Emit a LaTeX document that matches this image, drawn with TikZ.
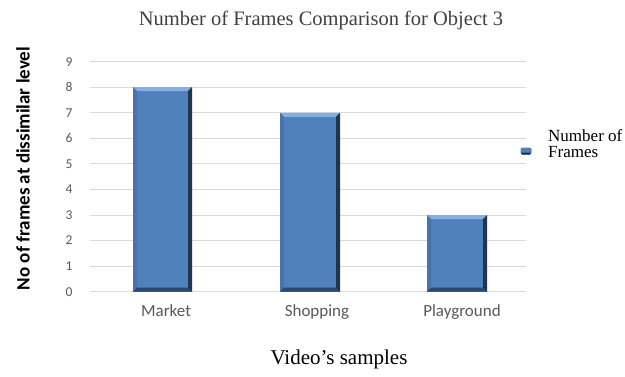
\documentclass[tikz,border=0pt]{standalone}
\usepackage{fontspec}
\setmainfont{Liberation Serif}
\newfontfamily\tickfont{Carlito}
\definecolor{barblue}{HTML}{4F81BD}
\definecolor{bartop}{HTML}{86AEDF}
\definecolor{barright}{HTML}{1F3550}
\definecolor{barbottom}{HTML}{2A4870}
\definecolor{barleft}{HTML}{4674AD}
\definecolor{gridgray}{HTML}{D9D9D9}
\definecolor{ticktext}{HTML}{595959}
\newcommand{\bevelbar}[3]{%
  \fill[barblue] (#1,291.7) rectangle (#2,#3);
  \fill[bartop] (#1,#3) -- (#2,#3) -- ([xshift=-4pt]#2,#3+4) -- ([xshift=4pt]#1,#3+4) -- cycle;
  \fill[barleft] (#1,#3) -- ([xshift=4pt]#1,#3+4) -- ([xshift=4pt]#1,287.7) -- (#1,291.7) -- cycle;
  \fill[barright] (#2,#3) -- ([xshift=-4pt]#2,#3+4) -- ([xshift=-4pt]#2,287.7) -- (#2,291.7) -- cycle;
  \fill[barbottom] (#1,291.7) -- ([xshift=4pt]#1,287.7) -- ([xshift=-4pt]#2,287.7) -- (#2,291.7) -- cycle;
}
\tikzset{
  grid line/.style={draw=gridgray, line width=1pt},
  tick label/.style={font=\tickfont\fontsize{13.5}{14}\selectfont, text=ticktext, anchor=center},
  cat label/.style={font=\tickfont\fontsize{17}{18}\selectfont, text=ticktext, anchor=base},
}
\begin{document}
\begin{tikzpicture}[x=1pt,y=-1pt]
\useasboundingbox (0,0) rectangle (625,376);
\fill[white] (0,0) rectangle (625,376);
% gridlines and tick labels
\foreach \v in {0,...,9}{
  \draw[grid line] (90,{291.7-\v*25.56}) -- (526,{291.7-\v*25.56});
  \node[tick label] (t\v) at (69,{291.7-\v*25.56}) {\v};
}
% bars
\bevelbar{133}{192}{87.2}
\bevelbar{280}{340}{112.8}
\bevelbar{427}{487}{215.0}
\coordinate (b1) at (162.5,87.2);
\coordinate (b2) at (310,112.8);
\coordinate (b3) at (457,215.0);
% category labels
\node[cat label] (c1) at (166,316) {Market};
\node[cat label] (c2) at (317,316) {Shopping};
\node[cat label] (c3) at (462,316) {Playground};
% title
\node[font=\fontsize{20.5}{22}\selectfont, text=black!75] (title) at (321,20) {Number of Frames Comparison for Object 3};
% axis titles
\node[font=\tickfont\bfseries\fontsize{19}{20}\selectfont, rotate=90] (ylab) at (23,168.5) {No of frames at dissimilar level};
\node[font=\fontsize{21}{22}\selectfont] (xlab) at (339,359) {Video’s samples};
% legend
\fill[barblue, rounded corners=2pt] (520.5,147.5) rectangle (531.5,154.5);
\fill[barright, rounded corners=1pt] (521,152.5) rectangle (531,154.5);
\coordinate (legmark) at (526,151);
\node[font=\fontsize{17}{16}\selectfont, align=left, anchor=west, inner sep=0pt] (leg) at (548,143.5) {Number of\\Frames};
\end{tikzpicture}
\end{document}
